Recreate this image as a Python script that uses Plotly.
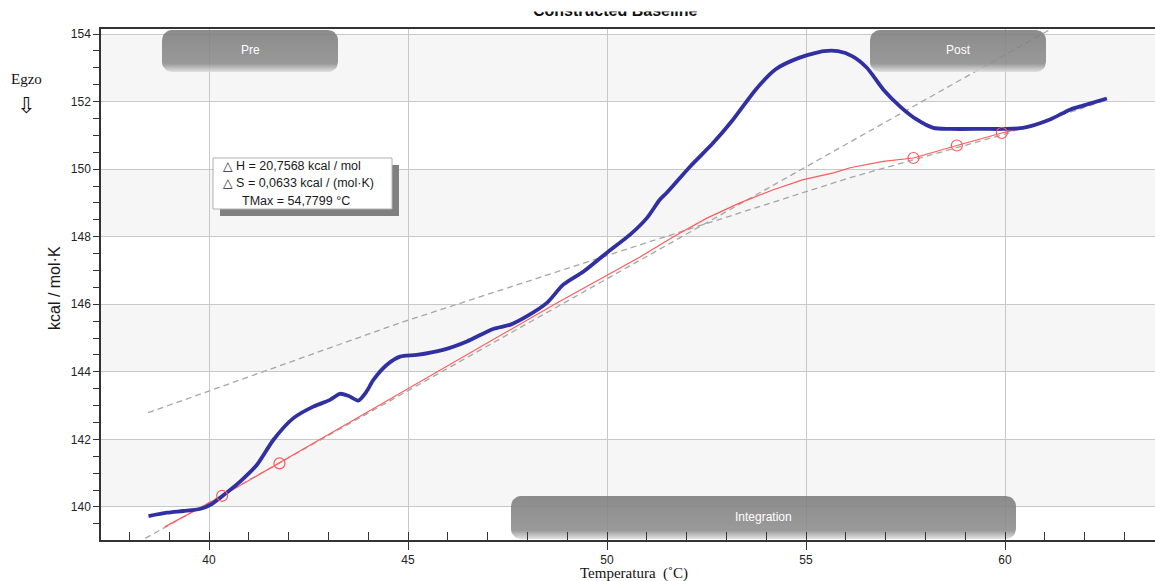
import numpy as np
import plotly.graph_objects as go

# ---------------- data ----------------
# measured curve (blue)
temp = [38.48, 38.94, 39.35, 39.77, 40.03, 40.32, 40.78, 41.20, 41.62, 42.12, 42.62, 43.04,
        43.29, 43.50, 43.75, 43.96, 44.13, 44.47, 44.80, 45.22, 45.88, 46.48, 47.14, 47.56,
        47.98, 48.49, 48.90, 49.41, 49.99, 50.58, 51.00, 51.33, 51.50, 52.09, 52.67, 53.17,
        53.74, 54.23, 54.84, 55.45, 55.80, 56.17, 56.53, 56.94, 57.36, 57.78, 58.20, 58.62,
        59.45, 59.95, 60.45, 61.13, 61.63, 61.96, 62.56]
cp = [139.73, 139.83, 139.88, 139.94, 140.06, 140.31, 140.75, 141.24, 141.99, 142.63, 142.97, 143.17,
      143.35, 143.29, 143.15, 143.42, 143.76, 144.21, 144.45, 144.50, 144.65, 144.90, 145.27, 145.39,
      145.64, 146.04, 146.58, 146.97, 147.52, 148.06, 148.55, 149.10, 149.30, 150.08, 150.78, 151.47,
      152.36, 152.95, 153.30, 153.49, 153.49, 153.34, 153.00, 152.36, 151.86, 151.47, 151.22, 151.19,
      151.19, 151.19, 151.22, 151.47, 151.76, 151.88, 152.09]

# constructed baseline (red)
base_t = [38.89, 40.33, 41.76, 45.00, 48.74, 50.83, 51.67, 52.51, 53.34, 54.18, 54.93, 55.69,
          56.11, 56.94, 57.70, 58.79, 59.92, 60.45]
base_v = [139.41, 140.33, 141.30, 143.50, 146.04, 147.40, 148.00, 148.55, 149.00, 149.39, 149.69, 149.89,
          150.04, 150.23, 150.33, 150.70, 151.07, 151.22]

# baseline anchor points (circles)
pts_t = [40.33, 41.77, 57.70, 58.79, 59.92]
pts_v = [140.33, 141.29, 150.33, 150.70, 151.07]

# post-transition extrapolation (dashed)
post_t = [38.47, 44.80, 50.83, 56.11, 59.95, 62.59]
post_v = [142.79, 145.45, 147.76, 149.75, 151.02, 152.06]

# pre-transition extrapolation (dashed)
pre_t = [38.40, 61.13]
pre_v = [139.07, 154.13]

x_range = [37.286, 63.769]
y_range = [139.022, 154.148]
x_ticks = [40, 45, 50, 55, 60]
y_ticks = [140, 142, 144, 146, 148, 150, 152, 154]
bands = [(152, 154), (148, 150), (144, 146), (140, 142)]

info_lines = ["△ H = 20,7568 kcal / mol", "△ S = 0,0633 kcal / (mol·K)", "TMax = 54,7799 °C"]

# ---------------- layout geometry (pixels) ----------------
W, H = 1155, 581
L, R, T, B = 101, 1155, 29, 540


def px2x(px):
    return x_range[0] + (px - L) / (R - L) * (x_range[1] - x_range[0])


def py2y(py):
    return y_range[0] + (B - py) / (B - T) * (y_range[1] - y_range[0])


def pxp(px):
    return (px - L) / (R - L)


def pyp(py):
    return (B - py) / (B - T)


def rrect(x0, y0, x1, y1, r, n=8):
    xs, ys = [], []
    corners = [(x1 - r, y0 + r, -90, 0), (x1 - r, y1 - r, 0, 90),
               (x0 + r, y1 - r, 90, 180), (x0 + r, y0 + r, 180, 270)]
    for cx, cy, a0, a1 in corners:
        for a in np.linspace(a0, a1, n):
            xs.append(cx + r * np.cos(np.radians(a)))
            ys.append(cy + r * np.sin(np.radians(a)))
    xs.append(xs[0]); ys.append(ys[0])
    return [px2x(v) for v in xs], [py2y(v) for v in ys]


fig = go.Figure()

fig.add_trace(go.Scatter(x=post_t, y=post_v, mode="lines",
                         line=dict(color="#a6a6a6", width=1.3, dash="6px,4px"), hoverinfo="skip"))
fig.add_trace(go.Scatter(x=pre_t, y=pre_v, mode="lines",
                         line=dict(color="#a6a6a6", width=1.3, dash="6px,4px"), hoverinfo="skip"))
fig.add_trace(go.Scatter(x=base_t, y=base_v, mode="lines",
                         line=dict(color="#ff5a5a", width=1.2), hoverinfo="skip"))
fig.add_trace(go.Scatter(x=temp, y=cp, mode="lines",
                         line=dict(color="#3030a2", width=3.8, shape="spline", smoothing=0.7),
                         hoverinfo="skip"))
fig.add_trace(go.Scatter(x=pts_t, y=pts_v, mode="markers",
                         marker=dict(symbol="circle-open", size=11, color="#ff5a5a",
                                     line=dict(width=1.2, color="#ff5a5a")), hoverinfo="skip"))

# buttons
buttons = [("Pre", 162, 30, 338, 72), ("Post", 870, 30, 1046, 72), ("Integration", 511, 496, 1016, 539)]
annotations = []
for label, x0, y0, x1, y1 in buttons:
    bx, by = rrect(x0, y0, x1, y1, 10)
    fig.add_trace(go.Scatter(
        x=bx, y=by, mode="lines", fill="toself", line=dict(width=0, color="rgba(0,0,0,0)"),
        fillgradient=dict(type="vertical",
                          colorscale=[[0, "rgba(220,220,220,0.85)"], [0.2, "rgba(140,140,140,0.88)"],
                                      [1, "rgba(125,125,125,0.88)"]],
                          start=py2y(y1), stop=py2y(y0)),
        hoverinfo="skip"))
    annotations.append(dict(xref="paper", yref="paper", x=pxp((x0 + x1) / 2), y=pyp((y0 + y1) / 2 - 1),
                            text=label, showarrow=False, xanchor="center", yanchor="middle",
                            font=dict(family="Liberation Sans, Arial", size=12, color="white")))

shapes = []
for lo, hi in bands:
    shapes.append(dict(type="rect", xref="paper", yref="y", x0=0, x1=1, y0=lo, y1=hi,
                       fillcolor="#f6f6f6", line=dict(width=0), layer="below"))

# info box
shapes.append(dict(type="rect", xref="paper", yref="paper", x0=pxp(220), x1=pxp(399),
                   y0=pyp(216), y1=pyp(165), fillcolor="#808080", line=dict(width=0), layer="above"))
shapes.append(dict(type="rect", xref="paper", yref="paper", x0=pxp(213), x1=pxp(392),
                   y0=pyp(209), y1=pyp(158), fillcolor="white", line=dict(width=1, color="#b0b0b0"),
                   layer="above"))
for i, (txt, xpix) in enumerate(zip(info_lines, [221, 221, 240])):
    annotations.append(dict(xref="paper", yref="paper", x=pxp(xpix), y=pyp(166 + 17.5 * i),
                            text=txt, showarrow=False, xanchor="left", yanchor="middle",
                            font=dict(family="Liberation Sans, Arial, DejaVu Sans", size=12.5, color="#1a1a1a")))

# side texts
annotations += [
    dict(xref="paper", yref="paper", x=pxp(26), y=pyp(79), text="Egzo", showarrow=False,
         xanchor="center", yanchor="middle", font=dict(family="Liberation Serif, serif", size=15, color="#111")),
    dict(xref="paper", yref="paper", x=pxp(26), y=pyp(105), text="⇩", showarrow=False,
         xanchor="center", yanchor="middle", font=dict(family="DejaVu Sans", size=22, color="#111")),
    dict(xref="paper", yref="paper", x=pxp(54), y=pyp(288), text="kcal / mol·K", showarrow=False,
         textangle=-90, xanchor="center", yanchor="middle",
         font=dict(family="Liberation Sans, Arial", size=16, color="#1a1a1a")),
    dict(xref="paper", yref="paper", x=pxp(634), y=pyp(573), text="Temperatura \u00a0(˚C)", showarrow=False,
         xanchor="center", yanchor="middle", font=dict(family="Liberation Serif, serif", size=15, color="#111")),
    dict(xref="paper", yref="paper", x=pxp(615), y=pyp(10.5), text="<b>Constructed Baseline</b>", showarrow=False,
         xanchor="center", yanchor="middle", font=dict(family="Liberation Sans, Arial", size=16, color="#111")),
    dict(xref="paper", yref="paper", x=pxp(615), y=pyp(0), text="\u00a0", showarrow=False,
         xanchor="center", yanchor="middle", width=240, height=20, bgcolor="white"),
]

fig.update_layout(
    width=W, height=H,
    margin=dict(l=L, r=W - R, t=T, b=H - B, autoexpand=False),
    paper_bgcolor="white", plot_bgcolor="white", showlegend=False,
    shapes=shapes, annotations=annotations,
    xaxis=dict(range=x_range, tickvals=x_ticks, ticks="outside", ticklen=8, tickcolor="#333",
               showgrid=True, gridcolor="#c8c8c8", gridwidth=1, zeroline=False,
               showline=True, linecolor="#333", linewidth=1.5, mirror=True,
               tickfont=dict(family="Liberation Sans, Arial", size=12, color="#222"),
               minor=dict(dtick=1, tick0=0, ticks="inside", ticklen=8, tickcolor="#333", showgrid=False),
               automargin=False, fixedrange=True),
    yaxis=dict(range=y_range, tickvals=y_ticks, ticks="outside", ticklen=6, tickcolor="#333",
               showgrid=True, gridcolor="#c8c8c8", gridwidth=1, zeroline=False,
               showline=True, linecolor="#333", linewidth=1.5,
               tickfont=dict(family="Liberation Sans, Arial", size=12, color="#222"),
               minor=dict(dtick=0.5, tick0=0, ticks="outside", ticklen=6, tickcolor="#333", showgrid=False),
               automargin=False, fixedrange=True),
)

fig.write_html("out.html", config={"displayModeBar": False},
               post_script="document.body.style.margin='0';document.body.style.overflow='hidden';")
